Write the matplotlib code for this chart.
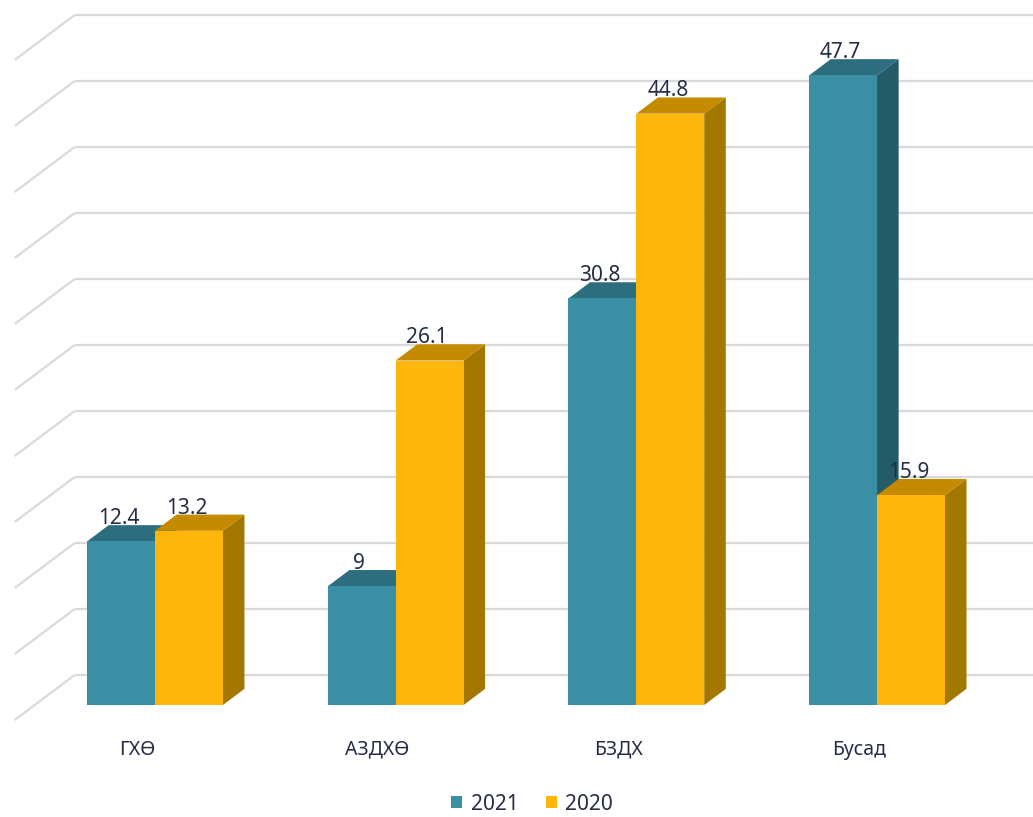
import matplotlib
matplotlib.use("Agg")
import matplotlib.pyplot as plt
from matplotlib.patches import Polygon, Patch

categories = ["ГХӨ", "АЗДХӨ", "БЗДХ", "Бусад"]
years = ["2021", "2020"]
values_2021 = [12.4, 9, 30.8, 47.7]
values_2020 = [13.2, 26.1, 44.8, 15.9]
grid_values = [0, 5, 10, 15, 20, 25, 30, 35, 40, 45, 50]

front_colors = ["#3A8FA5", "#FFB60A"]
top_colors = ["#2C6D7E", "#C48B00"]
side_colors = ["#235B68", "#A37800"]
text_color = "#252D45"
grid_color = "#D9D9D9"

plt.rcParams['font.family'] = ['Noto Sans', 'DejaVu Sans']

# oblique projection: full depth of the floor in data units (x, y)
depth_x, depth_y = 0.249, 3.41
bar_w = 0.282
bar_dx, bar_dy = 0.36 * depth_x, 0.36 * depth_y   # bar depth
back_dx, back_dy = 2 / 3 * depth_x, 2 / 3 * depth_y  # back wall from bar front
front_dx, front_dy = -1 / 3 * depth_x, -1 / 3 * depth_y  # floor front edge
wall_x = -0.5

fig = plt.figure(figsize=(10.33, 8.17), dpi=100)
ax = fig.add_axes([0, 0, 1, 1])
ax.set_xlim(-0.644, 3.648)
ax.set_ylim(-8.48, 53.41)
ax.axis("off")

# стенки: сетка на задней и левой стенке
for g in grid_values:
    ax.plot([wall_x + back_dx, 3.8], [g + back_dy, g + back_dy],
            color=grid_color, lw=1.6, zorder=1, solid_capstyle="butt")
    ax.plot([wall_x + front_dx, wall_x + back_dx], [g + front_dy, g + back_dy],
            color=grid_color, lw=1.6, zorder=1, solid_capstyle="butt")


def draw_bar(x0, h, k, z):
    x1 = x0 + bar_w
    side = Polygon([(x1, 0), (x1 + bar_dx, bar_dy), (x1 + bar_dx, h + bar_dy), (x1, h)],
                   closed=True, facecolor=side_colors[k], edgecolor="none", zorder=z)
    top = Polygon([(x0, h), (x0 + bar_dx, h + bar_dy), (x1 + bar_dx, h + bar_dy), (x1, h)],
                  closed=True, facecolor=top_colors[k], edgecolor="none", zorder=z)
    ax.add_patch(side)
    ax.add_patch(top)
    ax.bar(x0, h, width=bar_w, align="edge", color=front_colors[k],
           edgecolor="none", zorder=z + 0.5)


for i in range(len(categories)):
    draw_bar(i - bar_w, values_2021[i], 0, 2 + i * 2)
    draw_bar(i, values_2020[i], 1, 3 + i * 2)
    for x0, v in [(i - bar_w, values_2021[i]), (i, values_2020[i])]:
        ax.text(x0 + bar_w / 2 - 0.01, v + 1.3, f"{v:g}", ha="center", va="baseline",
                fontsize=15, color=text_color, zorder=20)
    ax.text(i - 0.075, -3.4, categories[i], ha="center", va="center",
            fontsize=14, color=text_color, zorder=20)

handles = [Patch(facecolor=front_colors[k], label=years[k]) for k in range(2)]
fig.legend(handles=handles, loc="center", bbox_to_anchor=(0.515, 1 - 804 / 817),
           ncol=2, frameon=False, fontsize=15, handlelength=0.55, handleheight=0.55,
           handletextpad=0.4, columnspacing=1.3, labelcolor=text_color)

fig.savefig("out.png", dpi=100)
